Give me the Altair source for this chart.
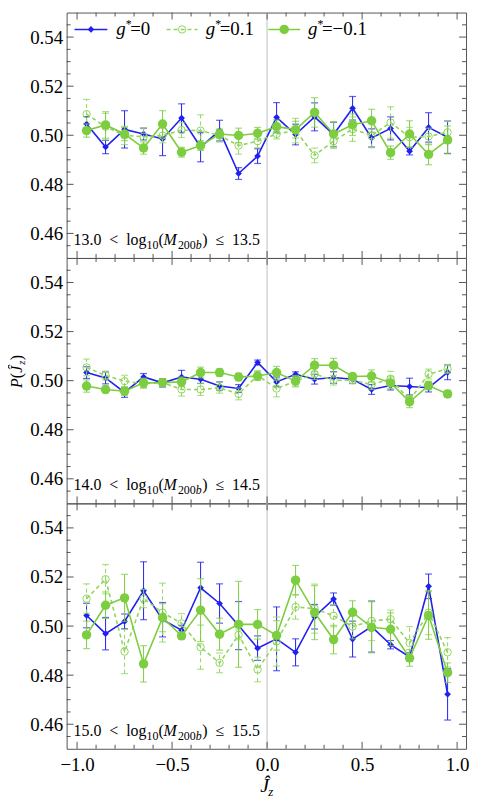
import altair as alt
import pandas as pd

# ---------------- data ----------------
xs = [-0.95, -0.85, -0.75, -0.65, -0.55, -0.45, -0.35, -0.25, -0.15, -0.05,
      0.05, 0.15, 0.25, 0.35, 0.45, 0.55, 0.65, 0.75, 0.85, 0.95]

# panel 1: 13.0 < log10(M200b) <= 13.5
p1_g0 = [0.5046, 0.4952, 0.5024, 0.5005, 0.4985, 0.5070, 0.4952, 0.5019, 0.4844, 0.4915,
         0.5073, 0.5003, 0.5075, 0.5003, 0.5110, 0.4989, 0.5028, 0.4935, 0.5032, 0.4992]
p1_g0_err = [0.003, 0.0027, 0.0076, 0.0024, 0.0068, 0.0058, 0.006, 0.0042, 0.0024, 0.003,
             0.006, 0.0042, 0.0057, 0.005, 0.0048, 0.0037, 0.0047, 0.0015, 0.006, 0.0066]
p1_gp = [0.5086, 0.5035, 0.4999, 0.4994, 0.4999, 0.5021, 0.5019, 0.4999, 0.4958, 0.4976,
         0.5005, 0.5019, 0.4918, 0.4976, 0.5025, 0.4999, 0.5052, 0.4992, 0.4995, 0.5012]
p1_gp_err = [0.006, 0.0054, 0.0037, 0.0037, 0.003, 0.003, 0.0064, 0.0027, 0.0035, 0.0027,
             0.002, 0.005, 0.003, 0.003, 0.005, 0.005, 0.0064, 0.004, 0.0034, 0.0044]
p1_gm = [0.5019, 0.5042, 0.5005, 0.4948, 0.5046, 0.4931, 0.4958, 0.5005, 0.4999, 0.5008,
         0.5035, 0.5023, 0.5093, 0.5005, 0.5043, 0.5059, 0.4929, 0.5005, 0.4922, 0.4981]
p1_gm_err = [0.0027, 0.0054, 0.0027, 0.0025, 0.0054, 0.002, 0.002, 0.0017, 0.003, 0.0024,
             0.0027, 0.0034, 0.006, 0.005, 0.0044, 0.0047, 0.0027, 0.0054, 0.0042, 0.0057]

# panel 2: 14.0 < log10(M200b) <= 14.5
p2_g0 = [0.5033, 0.5011, 0.4952, 0.5015, 0.4991, 0.5015, 0.5006, 0.4978, 0.4968, 0.5074,
         0.4995, 0.5026, 0.5006, 0.5013, 0.5006, 0.4964, 0.4980, 0.4976, 0.4971, 0.5034]
p2_g0_err = [0.0024, 0.0024, 0.002, 0.0014, 0.0017, 0.0027, 0.0017, 0.0017, 0.0016, 0.001,
             0.002, 0.001, 0.002, 0.0024, 0.0017, 0.002, 0.0018, 0.0034, 0.0017, 0.003]
p2_gp = [0.5054, 0.5021, 0.4998, 0.4988, 0.4992, 0.4964, 0.4964, 0.4971, 0.4946, 0.5021,
         0.4968, 0.4998, 0.5027, 0.5002, 0.5002, 0.4984, 0.5008, 0.4921, 0.5027, 0.5048]
p2_gp_err = [0.0034, 0.0018, 0.0024, 0.0019, 0.0015, 0.0027, 0.0024, 0.0022, 0.0024, 0.002,
             0.0034, 0.002, 0.0022, 0.002, 0.0015, 0.002, 0.003, 0.002, 0.002, 0.0018]
p2_gm = [0.4978, 0.4964, 0.4957, 0.4991, 0.4992, 0.4995, 0.5033, 0.5033, 0.5015, 0.5019,
         0.5033, 0.4998, 0.5063, 0.5063, 0.5017, 0.5019, 0.4991, 0.4914, 0.4980, 0.4946]
p2_gm_err = [0.0025, 0.0014, 0.0017, 0.0019, 0.0015, 0.002, 0.0022, 0.0015, 0.0015, 0.0017,
             0.0025, 0.0023, 0.0027, 0.0028, 0.0012, 0.0025, 0.0024, 0.0024, 0.0017, 0.0014]

# panel 3: 15.0 < log10(M200b) <= 15.5
p3_g0 = [0.5043, 0.4969, 0.5019, 0.5144, 0.5026, 0.4983, 0.5156, 0.5092, 0.5002, 0.4910,
         0.4948, 0.4893, 0.5038, 0.5110, 0.4947, 0.4998, 0.4924, 0.4874, 0.5162, 0.4722]
p3_g0_err = [0.005, 0.0066, 0.003, 0.0118, 0.007, 0.002, 0.0104, 0.008, 0.0098, 0.005,
             0.013, 0.0055, 0.005, 0.0025, 0.0073, 0.0104, 0.0017, 0.0017, 0.005, 0.0105]
p3_gp = [0.5112, 0.5191, 0.4896, 0.5112, 0.5055, 0.5011, 0.4914, 0.4850, 0.4964, 0.4823,
         0.4937, 0.5078, 0.5071, 0.5042, 0.4998, 0.5021, 0.5028, 0.4931, 0.5055, 0.4893]
p3_gp_err = [0.006, 0.006, 0.009, 0.0037, 0.012, 0.004, 0.009, 0.004, 0.002, 0.005,
             0.01, 0.005, 0.01, 0.0045, 0.005, 0.008, 0.0037, 0.0067, 0.009, 0.006]
p3_gm = [0.4964, 0.5085, 0.5115, 0.4846, 0.5034, 0.4960, 0.5065, 0.4967, 0.5007, 0.5007,
         0.4962, 0.5187, 0.5055, 0.4945, 0.5056, 0.4995, 0.4987, 0.4870, 0.5043, 0.4810]
p3_gm_err = [0.0056, 0.0054, 0.0096, 0.0074, 0.0057, 0.0013, 0.0128, 0.0065, 0.0175, 0.006,
             0.006, 0.006, 0.011, 0.0058, 0.0047, 0.0104, 0.0067, 0.0034, 0.0097, 0.004]

panel_ranges = [("13.0", "13.5"), ("14.0", "14.5"), ("15.0", "15.5")]

y_major = [0.46, 0.48, 0.50, 0.52, 0.54]
y_minor = [0.455, 0.465, 0.47, 0.475, 0.485, 0.49, 0.495, 0.505, 0.51, 0.515,
           0.525, 0.53, 0.535, 0.545]
x_major = [-1.0, -0.5, 0.0, 0.5, 1.0]
x_minor = [-0.9, -0.8, -0.7, -0.6, -0.4, -0.3, -0.2, -0.1,
           0.1, 0.2, 0.3, 0.4, 0.6, 0.7, 0.8, 0.9]

series_vals = {
    1: {"g0": (p1_g0, p1_g0_err), "gp": (p1_gp, p1_gp_err), "gm": (p1_gm, p1_gm_err)},
    2: {"g0": (p2_g0, p2_g0_err), "gp": (p2_gp, p2_gp_err), "gm": (p2_gm, p2_gm_err)},
    3: {"g0": (p3_g0, p3_g0_err), "gp": (p3_gp, p3_gp_err), "gm": (p3_gm, p3_gm_err)},
}

rows = []
for p, sd in series_vals.items():
    for s, (vals, errs) in sd.items():
        for x, v, e in zip(xs, vals, errs):
            rows.append({"panel": p, "series": s, "x": x, "v": v, "lo": v - e, "hi": v + e})
df = pd.DataFrame(rows)

# ---------------- style ----------------
FONT = "Liberation Serif"
BLUE = "#2020f0"
GREEN = "#7ccd3f"
GREEN_D = "#8fd65c"
FRAME = "#555555"
W, H = 402, 247

XS = alt.Scale(domain=[-1.055, 1.047], nice=False, zero=False)
YS = alt.Scale(domain=[0.45, 0.55], nice=False, zero=False)

YAX = alt.Axis(values=y_major, format=".2f", ticks=False, domain=False, grid=False,
               labelFont=FONT, labelFontSize=19, labelColor="black", labelPadding=4,
               title=None)
XAX_B = alt.Axis(values=x_major, format=".1f", ticks=False, domain=False, grid=False,
                 labelFont=FONT, labelFontSize=19, labelColor="black", labelPadding=7,
                 title=None)


def txt(s, x, y, size, style="normal", angle=0, align="left"):
    return alt.Chart(pd.DataFrame({"t": [s]})).mark_text(
        font=FONT, fontSize=size, fontStyle=style, angle=angle, align=align,
        baseline="alphabetic", color="black"
    ).encode(text="t:N", x=alt.value(x), y=alt.value(y))


def make_panel(p, bottom=False, ytitle=False, legend=False):
    xax = XAX_B if bottom else None

    def X(f="x"):
        return alt.X(f"{f}:Q", scale=XS, axis=xax)

    def Y(f="v"):
        return alt.Y(f"{f}:Q", scale=YS, axis=YAX)

    layers = []
    # vertical line at 0
    layers.append(alt.Chart(pd.DataFrame({"x": [0.0]})).mark_rule(
        color="#dcdcdc", strokeWidth=1.8).encode(x=X()))

    d = df[df.panel == p]
    spec = [
        ("g0", BLUE, None, dict(shape="diamond", filled=True, size=45)),
        ("gp", GREEN_D, [4, 3], dict(shape="circle", filled=False, size=55, strokeWidth=1)),
        ("gm", GREEN, None, dict(shape="circle", filled=True, size=90)),
    ]
    for s, col, dash, pt in spec:
        ds = d[d.series == s]
        rk = dict(color=col, strokeWidth=1)
        lk = dict(color=col, strokeWidth=1.6)
        if dash:
            rk["strokeDash"] = dash
            lk["strokeDash"] = dash
        base = alt.Chart(ds)
        layers.append(base.mark_rule(**rk).encode(x=X(), y=Y("lo"), y2="hi:Q"))
        layers.append(base.mark_tick(color=col, orient="horizontal", size=7, thickness=1.2)
                      .encode(x=X(), y=Y("lo")))
        layers.append(base.mark_tick(color=col, orient="horizontal", size=7, thickness=1.2)
                      .encode(x=X(), y=Y("hi")))
        layers.append(base.mark_line(**lk).encode(x=X(), y=Y("v")))
        layers.append(base.mark_point(color=col, opacity=1, **pt).encode(x=X(), y=Y("v")))

    # inner frame ticks
    ymaj = alt.Chart(pd.DataFrame({"v": y_major}))
    ymin = alt.Chart(pd.DataFrame({"v": y_minor}))
    xmaj = alt.Chart(pd.DataFrame({"x": x_major}))
    xmin = alt.Chart(pd.DataFrame({"x": x_minor}))
    tk = dict(color=FRAME, strokeWidth=1)
    layers += [
        ymaj.mark_rule(**tk).encode(y=Y(), x=alt.value(0), x2=alt.value(7)),
        ymaj.mark_rule(**tk).encode(y=Y(), x=alt.value(W), x2=alt.value(W - 7)),
        ymin.mark_rule(**tk).encode(y=Y(), x=alt.value(0), x2=alt.value(4)),
        ymin.mark_rule(**tk).encode(y=Y(), x=alt.value(W), x2=alt.value(W - 4)),
        xmaj.mark_rule(**tk).encode(x=X(), y=alt.value(0), y2=alt.value(7)),
        xmaj.mark_rule(**tk).encode(x=X(), y=alt.value(H), y2=alt.value(H - 7)),
        xmin.mark_rule(**tk).encode(x=X(), y=alt.value(0), y2=alt.value(4)),
        xmin.mark_rule(**tk).encode(x=X(), y=alt.value(H), y2=alt.value(H - 4)),
    ]

    # panel mass-range label
    lo, hi = panel_ranges[p - 1]
    by = 234
    layers += [
        txt(f"{lo}\u2002<\u2002log", 7, by, 16),
        txt("10", 80.5, by + 4, 12),
        txt("(", 92.5, by, 16),
        txt("M", 97.5, by, 16, "italic"),
        txt("200", 112, by + 4, 12),
        txt("b", 130, by + 4, 12, "italic"),
        txt(f")\u2002\u2264\u2002{hi}", 136.5, by, 16),
    ]

    if legend:
        ly = 17
        items = [
            (8, 41, BLUE, None, dict(shape="diamond", filled=True, size=45), 50, "=0"),
            (100.7, 131.7, GREEN_D, [4, 3], dict(shape="circle", filled=False, size=55, strokeWidth=1), 140, "=0.1"),
            (203, 235, GREEN, None, dict(shape="circle", filled=True, size=90), 243, "=\u22120.1"),
        ]
        for x0, x1, col, dash, pt, tx, lab in items:
            rk = dict(color=col, strokeWidth=1.6)
            if dash:
                rk["strokeDash"] = dash
            one = alt.Chart(pd.DataFrame({"k": [1]}))
            layers.append(one.mark_rule(**rk).encode(x=alt.value(x0), x2=alt.value(x1), y=alt.value(ly)))
            layers.append(one.mark_point(color=col, opacity=1, **pt).encode(
                x=alt.value((x0 + x1) / 2), y=alt.value(ly)))
            layers += [
                txt("g", tx, ly + 6, 19, "italic"),
                txt("*", tx + 9.5, ly - 1, 12),
                txt(lab, tx + 14, ly + 6, 19),
            ]

    if ytitle:
        ax = -45
        layers += [
            txt("P", ax, 131, 16, "italic", angle=270),
            txt("(", ax, 121, 16, angle=270),
            txt("\u0134", ax, 115.5, 16, "italic", angle=270),
            txt("z", ax + 3, 107.5, 11, "italic", angle=270),
            txt(")", ax, 103, 16, angle=270),
        ]

    if bottom:
        layers += [
            txt("\u0134", 195, H + 44, 20, "italic"),
            txt("z", 203, H + 48, 13, "italic"),
        ]

    return alt.layer(*layers).properties(width=W, height=H)


chart = alt.vconcat(
    make_panel(1, legend=True),
    make_panel(2, ytitle=True),
    make_panel(3, bottom=True),
    spacing=0,
    bounds="flush",
).properties(
    padding={"left": 0, "top": 0, "right": 0, "bottom": 0}
).configure_view(
    stroke=FRAME, strokeWidth=1
)

chart.save("out.html", embed_options={"renderer": "svg", "actions": False})
